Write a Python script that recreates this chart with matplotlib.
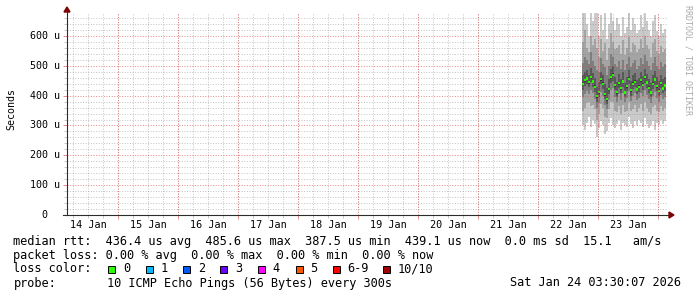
import numpy as np
import matplotlib
matplotlib.use('Agg')
import matplotlib.pyplot as plt
import matplotlib.dates as mdates
from matplotlib.lines import Line2D
from matplotlib.patches import Polygon, Rectangle
from datetime import datetime, timedelta

W, H = 697, 297
MONO = 'DejaVu Sans Mono'

# graph shows the last 10 days up to the footer timestamp
t_end = datetime(2026, 1, 24, 3, 30, 7)
t_start = t_end - timedelta(days=10)

# data only starts on Jan 22 afternoon, one column every 48 min
t_first = datetime(2026, 1, 22, 17, 30)
col_minutes = 48

# sorted ping rtts per column (microseconds), ping1 = fastest, ping10 = slowest
ping1 = [300, 285, 310, 330, 295, 320, 305, 262, 290, 315, 300, 270, 280, 310, 325, 300, 290, 305, 320, 285, 310,
         300, 295, 330, 305, 290, 315, 300, 320, 310, 295, 325, 305, 290, 300, 315, 285, 310, 300, 320, 305, 315]
ping2 = [350, 360, 375, 380, 365, 370, 355, 320, 340, 372, 360, 330, 325, 355, 380, 378, 350, 345, 365, 340, 368,
         345, 350, 378, 350, 355, 370, 345, 360, 372, 350, 380, 360, 345, 340, 362, 368, 350, 345, 365, 350, 360]
ping3 = [395, 405, 415, 405, 420, 408, 390, 360, 375, 412, 400, 370, 355, 385, 420, 425, 395, 380, 405, 385, 408,
         378, 392, 415, 382, 400, 408, 385, 392, 410, 398, 420, 402, 388, 375, 400, 412, 392, 380, 402, 388, 396]
ping4 = [420, 432, 440, 428, 445, 430, 412, 380, 395, 438, 422, 388, 372, 405, 442, 450, 418, 396, 425, 408, 430,
         394, 415, 438, 400, 422, 430, 404, 412, 434, 418, 442, 426, 408, 394, 422, 436, 414, 400, 424, 408, 416]
ping5 = [435, 447, 453, 440, 457, 443, 425, 393, 407, 450, 435, 400, 383, 417, 457, 465, 430, 407, 437, 420, 443,
         405, 427, 451, 413, 435, 441, 415, 425, 447, 431, 457, 439, 421, 405, 435, 449, 427, 411, 437, 419, 429]
ping6 = [445, 457, 463, 450, 467, 453, 435, 403, 417, 460, 445, 410, 393, 427, 467, 475, 440, 417, 447, 430, 453,
         415, 437, 461, 423, 445, 451, 425, 435, 457, 441, 467, 449, 431, 415, 445, 459, 437, 421, 447, 429, 439]
ping7 = [468, 478, 485, 470, 492, 475, 460, 430, 445, 480, 470, 440, 425, 455, 490, 498, 462, 445, 472, 455, 478,
         442, 462, 485, 450, 468, 475, 452, 460, 480, 465, 490, 472, 455, 442, 468, 482, 462, 448, 470, 455, 462]
ping8 = [510, 530, 520, 505, 545, 515, 500, 485, 480, 525, 505, 495, 470, 500, 540, 530, 505, 495, 515, 490, 520,
         485, 505, 530, 495, 510, 520, 490, 500, 525, 505, 535, 515, 500, 485, 510, 528, 500, 490, 512, 495, 505]
ping9 = [580, 620, 560, 545, 600, 570, 590, 560, 530, 590, 550, 575, 520, 560, 610, 580, 555, 560, 570, 540, 585,
         535, 560, 595, 545, 575, 570, 545, 555, 590, 560, 600, 570, 555, 530, 575, 590, 550, 540, 565, 545, 555]
ping10 = [680, 680, 640, 600, 680, 650, 680, 680, 600, 670, 620, 680, 590, 640, 680, 650, 620, 660, 640, 600, 665,
          610, 630, 680, 620, 660, 640, 610, 620, 670, 630, 680, 650, 620, 600, 650, 670, 615, 600, 640, 610, 625]
median = [440, 452, 458, 445, 462, 448, 430, 398, 412, 455, 440, 405, 388, 422, 462, 470, 435, 412, 442, 425, 448,
          410, 432, 456, 418, 440, 446, 420, 430, 452, 436, 462, 444, 426, 410, 440, 454, 432, 416, 442, 424, 434]

loss_labels = ['0', '1', '2', '3', '4', '5', '6-9', '10/10']
loss_colors = ['#26ff00', '#00b8ff', '#0059ff', '#6a00ff', '#ff00ff', '#ff5500', '#ff0000', '#a00000']

rtt_stats = ['436.4 us avg', '485.6 us max', '387.5 us min', '439.1 us now', '0.0 ms sd', '15.1', 'am/s']
loss_stats = ['0.00 % avg', '0.00 % max', '0.00 % min', '0.00 % now']
probe_text = '10 ICMP Echo Pings (56 Bytes) every 300s'
stamp_text = 'Sat Jan 24 03:30:07 2026'

y_max = 677


def fx(px):
    return px / W


def fy(py):
    return 1 - py / H


fig = plt.figure(figsize=(W / 100, H / 100), dpi=100, facecolor='white')
ax = fig.add_axes([fx(67), fy(215), 600 / W, 202 / H])
ax.set_facecolor('white')
for s in ax.spines.values():
    s.set_visible(False)

x0, x1 = mdates.date2num(t_start), mdates.date2num(t_end)
ax.set_xlim(x0, x1)
ax.set_ylim(0, y_max)

# smoke bands, outermost pair lightest
edges = mdates.date2num([t_first + timedelta(minutes=col_minutes * i) for i in range(len(median) + 1)])


def stepped(v):
    v = np.asarray(v, dtype=float)
    return np.append(v, v[-1])


bands = [(ping1, ping10, '#cacaca'), (ping2, ping9, '#a4a4a4'), (ping3, ping8, '#7e7e7e'),
         (ping4, ping7, '#585858'), (ping5, ping6, '#323232')]
for lo, hi, c in bands:
    ax.fill_between(edges, stepped(lo), stepped(hi), step='post', color=c, lw=0,
                    antialiased=False, zorder=1)

# median as short green dashes, narrower than a column
col_w = col_minutes / 1440.0
mid = edges[:-1] + col_w / 2
med = np.asarray(median, dtype=float)
ax.bar(mid, 8, bottom=med - 4, width=col_w * 0.6, color=loss_colors[0], lw=0, zorder=2)

# grid (drawn over the data like rrdtool)
minor_c = (0.5, 0.5, 0.5, 0.45)
major_c = (0.87, 0.31, 0.31, 0.65)
dash = (0, (1, 1.6))
base = t_start.replace(hour=0, minute=0, second=0)
days = [base + timedelta(days=d) for d in range(0, 11)]
quarters = [base + timedelta(hours=6 * h) for h in range(1, 44)]
for q in mdates.date2num(quarters):
    if x0 < q < x1:
        ax.axvline(q, color=minor_c, lw=0.72, ls=dash, zorder=3)
for d in mdates.date2num(days):
    if x0 < d < x1:
        ax.axvline(d, color=major_c, lw=0.72, ls=dash, zorder=4)
for v in range(20, y_max, 20):
    if v % 100:
        ax.axhline(v, color=minor_c, lw=0.72, ls=dash, zorder=3)
for v in range(100, y_max, 100):
    ax.axhline(v, color=major_c, lw=0.72, ls=dash, zorder=4)

# ticks
ax.set_xticks([d for d in mdates.date2num(days) if x0 < d < x1])
ax.set_xticks([q for q in mdates.date2num(quarters) if x0 < q < x1], minor=True)
ax.set_yticks(range(0, y_max, 100))
ax.set_yticks(range(0, y_max, 20), minor=True)
ax.tick_params(which='both', labelbottom=False, labelleft=False, direction='out')
ax.tick_params(which='major', length=3, width=0.72, color='#e09090')
ax.tick_params(which='minor', length=2, width=0.72, color='#c8c8c8')

# axis labels
for d in days:
    noon = mdates.date2num(d + timedelta(hours=12))
    if x0 < noon < x1:
        ax.text(noon, (215 - 225) / 202, d.strftime('%d %b'), transform=ax.get_xaxis_transform(),
                ha='center', va='center', fontsize=7.3, family=MONO)
for v in range(0, y_max, 100):
    lab = '0' if v == 0 else '%d u' % v
    ax.text((44.5 - 67) / 600, v, lab, transform=ax.get_yaxis_transform(),
            ha='center', va='center', fontsize=7.2, family=MONO)
fig.text(fx(11), fy(109), 'Seconds', rotation=90, ha='center', va='center', fontsize=7.2, family=MONO)

# axis lines with arrows
axis_c = '#2c2c2c'
arrow_c = '#7f0000'
fig.add_artist(Line2D([fx(67), fx(67)], [fy(215), fy(10)], color=axis_c, lw=0.8))
fig.add_artist(Line2D([fx(63), fx(669)], [fy(215), fy(215)], color=axis_c, lw=0.8))
fig.add_artist(Polygon([[fx(64), fy(12)], [fx(70), fy(12)], [fx(67), fy(7)]], closed=True, color=arrow_c))
fig.add_artist(Polygon([[fx(669), fy(212)], [fx(669), fy(218)], [fx(674), fy(215)]], closed=True, color=arrow_c))

# watermark
fig.text(fx(688), fy(5), 'RRDTOOL / TOBI OETIKER', rotation=270, ha='center', va='top',
         fontsize=6, family=MONO, color='#aaaaaa')

# legend rows
fs = 8.6
fig.text(fx(13.5), fy(241), 'median rtt:  ' + '  '.join(rtt_stats[:5]) + '  ' + rtt_stats[5] + '   ' + rtt_stats[6],
         ha='left', va='center', fontsize=fs, family=MONO)
fig.text(fx(13.5), fy(255), 'packet loss: ' + '  '.join(loss_stats),
         ha='left', va='center', fontsize=fs, family=MONO)
fig.text(fx(13.5), fy(269), 'loss color:', ha='left', va='center', fontsize=fs, family=MONO)
box_x = [108, 146, 183, 220, 257.5, 295.5, 332.5, 383]
for bx, lab, c in zip(box_x, loss_labels, loss_colors):
    fig.add_artist(Rectangle((fx(bx), fy(273)), 7 / W, 7 / H, facecolor=c, edgecolor='black', lw=0.7))
    fig.text(fx(bx + 15), fy(269), lab, ha='left', va='center', fontsize=fs, family=MONO)
fig.text(fx(13.5), fy(283), 'probe:', ha='left', va='center', fontsize=fs, family=MONO)
fig.text(fx(107), fy(283), probe_text, ha='left', va='center', fontsize=fs, family=MONO)
fig.text(fx(681), fy(283), stamp_text, ha='right', va='center', fontsize=fs, family=MONO)

fig.savefig('out.png', dpi=100, facecolor='white')
